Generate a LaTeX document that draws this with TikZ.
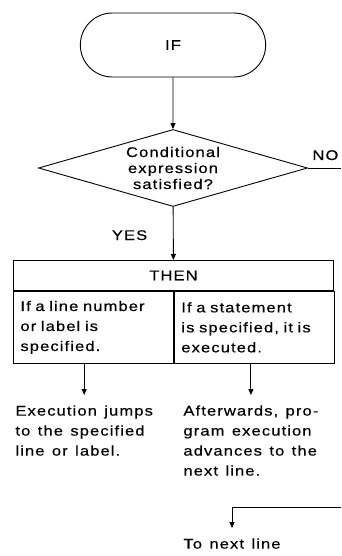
\documentclass[tikz,border=0pt]{standalone}
\usepackage{fontspec}
\setmainfont{Liberation Sans}[FakeStretch=1.18,LetterSpace=8,WordSpace=1.3,FakeBold=0.4]
\usetikzlibrary{arrows.meta,shapes.geometric,shapes.misc}

\begin{document}
\begin{tikzpicture}[x=1pt,y=-1pt,line width=0.9pt,
  font=\fontsize{14}{20}\selectfont,
  arr/.style={-{Triangle[length=6pt,width=5pt]}},
  terminal/.style={draw,rounded rectangle,minimum width=192pt,minimum height=64pt},
  decision/.style={draw,diamond,aspect=3.5,inner sep=0pt,minimum width=269pt,
    minimum height=77pt,align=center,font=\fontsize{14}{16}\selectfont},
  cell/.style={draw,anchor=north west,inner xsep=7pt,text width=146pt,
    minimum height=72pt,align=left},
  note/.style={anchor=north west,inner xsep=0pt,inner ysep=10pt,align=left}]
  \useasboundingbox (0,0) rectangle (341,556);
  % IF and its test
  \node[terminal] (if) at (173,45) {IF};
  \node[decision] (cond) at (173,168) {Conditional\\expression\\satisfied?};
  \draw[arr] (if) -- (cond);
  \node[anchor=base west,inner xsep=0pt] (no) at (312,160) {NO};
  \coordinate (noend) at (341,168);
  \draw (cond.east) -- (noend);
  \node[anchor=base east] (yes) at (151,240) {YES};
  % THEN block
  \node[draw,anchor=north west,minimum width=320pt,minimum height=30pt] (then) at (13,260) {THEN};
  \draw[arr] (cond) -- (then);
  \node[cell] (lcell) at (then.south west) {If a line number\\or label is\\specified.};
  \node[cell] (rcell) at (lcell.north east) {If a statement\\is specified, it is\\executed.};
  % what happens next
  \node[note] (jump) at (15,395) {Execution jumps\\to the specified\\line or label.};
  \node[note] (adv) at (183,395) {Afterwards, pro-\\gram execution\\advances to the\\next line.};
  \draw[arr] (lcell.south -| jump.north) -- (jump.north);
  \draw[arr] (rcell.south -| adv.north) -- (adv.north);
  % NO branch comes back in here
  \coordinate (back) at (341,507);
  \coordinate (turn) at (232,507);
  \node[note] (next) at (183,528) {To next line};
  \draw[arr] (back) -- (turn) -- (turn |- next.north);
\end{tikzpicture}
\end{document}
